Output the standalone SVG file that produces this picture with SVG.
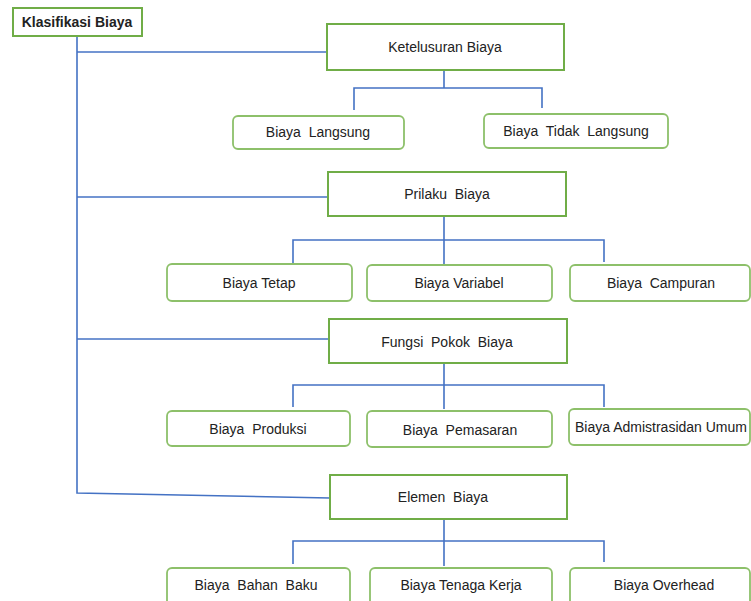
<svg xmlns="http://www.w3.org/2000/svg" width="751" height="601" viewBox="0 0 751 601">
<style>
.main{fill:#fff;stroke:#70AD47;stroke-width:2}
.sub{fill:#fff;stroke:#8DC06A;stroke-width:1.8}
.lbl{font-family:"Liberation Sans",Arial,sans-serif;font-size:14px;fill:#222;text-anchor:middle;white-space:pre}
.con{fill:none;stroke:#4472C4;stroke-width:1.6}
</style>
<rect width="751" height="601" fill="#fff"/>
<g id="connectors">
<path class="con" d="M77 36 V493 L330 498"/>
<path class="con" d="M77 52 H327"/>
<path class="con" d="M77 197 H328"/>
<path class="con" d="M77 339 H329"/>
<path class="con" d="M444 70 V88 M354 110 V88 H542 V108"/>
<path class="con" d="M444 216 V264 M293 264 V240 H604 V262"/>
<path class="con" d="M444 363 V409 M293 407 V385 H604 V407"/>
<path class="con" d="M444 519 V566 M293 564 V541 H604 V562"/>
</g>
<g id="klasifikasi">
<rect class="main" x="13" y="8" width="129" height="28"/>
<text class="lbl" x="77" y="27" font-weight="bold" font-size="13">Klasifikasi Biaya</text>
</g>
<g id="ketelusuran">
<rect class="main" x="327" y="24" width="237" height="46"/>
<text class="lbl" x="445" y="52">Ketelusuran Biaya</text>
</g>
<g id="langsung">
<rect class="sub" x="233" y="116" width="171" height="33" rx="5"/>
<text class="lbl" x="318" y="137">Biaya  Langsung</text>
</g>
<g id="tidak-langsung">
<rect class="sub" x="484" y="114" width="184" height="34" rx="5"/>
<text class="lbl" x="576" y="136">Biaya  Tidak  Langsung</text>
</g>
<g id="prilaku">
<rect class="main" x="328" y="172" width="238" height="44"/>
<text class="lbl" x="447" y="199">Prilaku  Biaya</text>
</g>
<g id="tetap">
<rect class="sub" x="167" y="264" width="185" height="37" rx="5"/>
<text class="lbl" x="259" y="288">Biaya Tetap</text>
</g>
<g id="variabel">
<rect class="sub" x="367" y="265" width="185" height="36" rx="5"/>
<text class="lbl" x="459" y="288">Biaya Variabel</text>
</g>
<g id="campuran">
<rect class="sub" x="570" y="265" width="180" height="36" rx="5"/>
<text class="lbl" x="661" y="288">Biaya  Campuran</text>
</g>
<g id="fungsi">
<rect class="main" x="329" y="319" width="238" height="44"/>
<text class="lbl" x="447" y="347">Fungsi  Pokok  Biaya</text>
</g>
<g id="produksi">
<rect class="sub" x="167" y="411" width="183" height="35" rx="5"/>
<text class="lbl" x="258" y="434">Biaya  Produksi</text>
</g>
<g id="pemasaran">
<rect class="sub" x="367" y="411" width="185" height="36" rx="5"/>
<text class="lbl" x="460" y="435">Biaya  Pemasaran</text>
</g>
<g id="administrasi">
<rect class="sub" x="569" y="409" width="181" height="36" rx="5"/>
<text class="lbl" x="661" y="432" font-size="11.5">Biaya Admistrasidan Umum</text>
</g>
<g id="elemen">
<rect class="main" x="330" y="475" width="237" height="44"/>
<text class="lbl" x="443" y="502">Elemen  Biaya</text>
</g>
<g id="bahan-baku">
<rect class="sub" x="167" y="568" width="183" height="40" rx="5"/>
<text class="lbl" x="256" y="590">Biaya  Bahan  Baku</text>
</g>
<g id="tenaga-kerja">
<rect class="sub" x="370" y="568" width="182" height="40" rx="5"/>
<text class="lbl" x="461" y="590">Biaya Tenaga Kerja</text>
</g>
<g id="overhead">
<rect class="sub" x="570" y="568" width="180" height="40" rx="5"/>
<text class="lbl" x="664" y="590">Biaya Overhead</text>
</g>
</svg>
